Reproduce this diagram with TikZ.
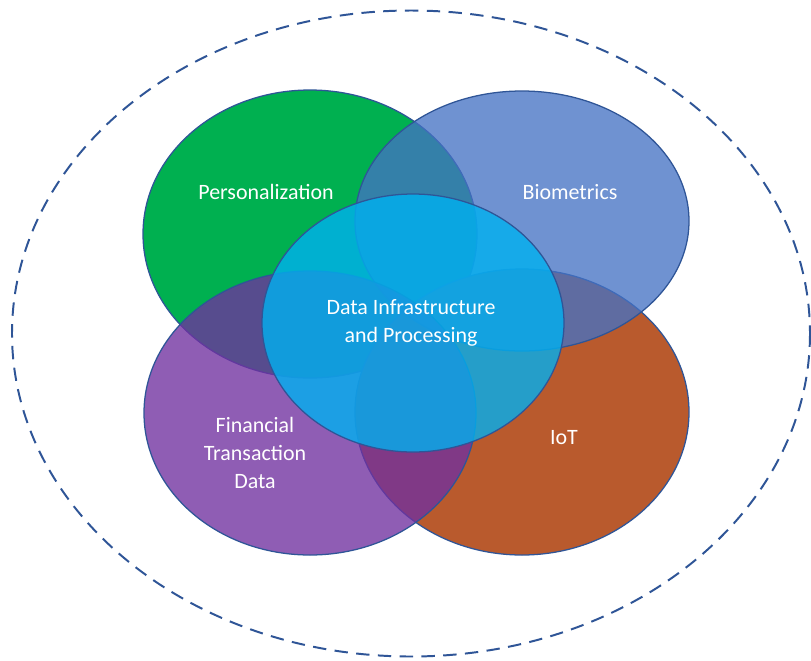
\documentclass[tikz,border=0pt]{standalone}
\usepackage{fontspec}
\setmainfont{Carlito}
\definecolor{persgreen}{RGB}{0,176,80}
\definecolor{iotorange}{RGB}{185,90,45}
\definecolor{bioblue}{RGB}{68,114,196}
\definecolor{finpurple}{RGB}{112,48,160}
\definecolor{corecyan}{RGB}{0,176,240}
\definecolor{rimblue}{RGB}{47,85,151}
\tikzset{
  blob/.style={draw=rimblue,line width=0.9pt},
  tag/.style={text=white,align=center,font=\fontsize{15.6}{19.9}\selectfont}
}
\begin{document}
\begin{tikzpicture}[x=0.025cm,y=-0.025cm]
    \useasboundingbox[fill=white] (0,0) rectangle (811,660);
    % outer dashed boundary
    \draw[rimblue,line width=1.4pt,dash pattern=on 9.5pt off 6pt] (411,333.5) ellipse (399 and 323);
    % the four areas, then the core on top
    \draw[blob,fill=persgreen] (310,234) ellipse (167 and 144);
    \draw[blob,fill=iotorange] (522,412) ellipse (167 and 143);
    \draw[blob,fill=bioblue,fill opacity=0.77] (522,221) ellipse (167 and 130);
    \draw[blob,fill=finpurple,fill opacity=0.78] (310,413) ellipse (166 and 142);
    \draw[blob,fill=corecyan,fill opacity=0.8] (413,323) ellipse (151 and 129);
    % labels
    \node[tag] (pers) at (266,192) {Personalization};
    \node[tag] (bio) at (570,192) {Biometrics};
    \node[tag] (core) at (411,323) {Data Infrastructure\\and Processing};
    \node[tag] (fin) at (255,453) {Financial\\Transaction\\Data};
    \node[tag] (iot) at (564,438) {IoT};
\end{tikzpicture}
\end{document}
